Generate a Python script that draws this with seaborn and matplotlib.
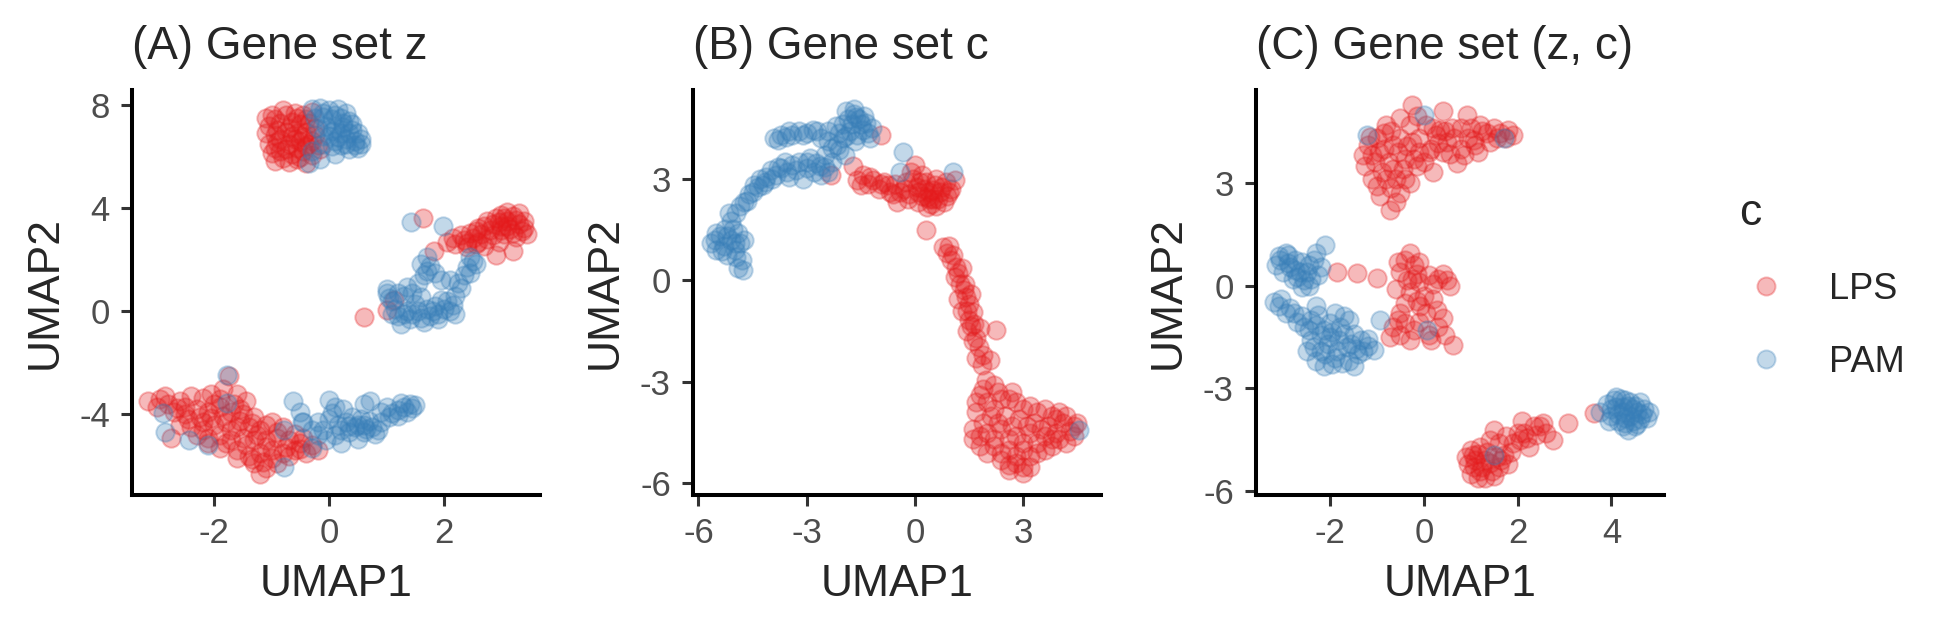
import numpy as np
import pandas as pd
import matplotlib
matplotlib.use("Agg")
import matplotlib.pyplot as plt
import seaborn as sb

# ---- data (UMAP coordinates per panel / group) ----
a_lps = [(-1.0,7.6),(-0.8,7.8),(-0.6,7.7),(-0.45,7.6),(-0.3,7.75),(-1.05,7.2),(-0.85,7.3),(-0.65,7.35),
         (-0.5,7.25),(-0.35,7.3),(-1.1,6.9),(-0.95,6.85),(-0.75,6.95),(-0.55,6.9),(-0.4,6.95),(-0.25,6.85),
         (-1.05,6.5),(-0.9,6.55),(-0.7,6.5),(-0.5,6.6),(-0.35,6.5),(-0.2,6.45),(-1.0,6.15),(-0.85,6.2),
         (-0.65,6.1),(-0.45,6.2),(-0.3,6.05),(-0.95,5.85),(-0.8,5.95),(-0.55,5.9),(-0.4,5.75),(-0.15,6.3),
         (-0.7,7.1),(-0.9,7.05),(-0.6,6.7),
         (-0.95,7.45),(-0.75,7.6),(-0.55,7.5),(-0.4,7.45),(-0.85,6.7),(-0.65,6.8),(-0.45,6.75),(-0.3,6.6),
         (-0.95,6.35),(-0.75,6.3),(-0.55,6.35),(-0.4,6.4),(-0.7,5.8),(-0.5,6.0),(-1.1,7.5),(-0.25,7.1),
         (2.05,2.7),(2.2,2.6),(2.35,2.75),(2.3,2.95),(2.5,2.85),(2.45,3.05),(2.65,3.0),(2.6,3.25),(2.75,2.8),
         (2.8,3.15),(2.85,3.4),(2.9,3.6),(3.0,3.3),(3.05,3.0),(3.1,3.5),(3.2,3.7),(3.15,3.2),(3.3,3.4),
         (3.35,3.1),(3.25,2.9),(3.0,3.75),(2.95,2.7),(2.7,2.55),(2.9,2.2),(3.2,2.35),(2.55,2.6),(3.4,3.25),
         (3.1,3.85),(2.75,3.5),(1.63,3.61),(1.83,2.32),(1.01,0.05),(1.13,0.44),(0.61,-0.23),
         (2.15,2.85),(2.4,2.65),(2.6,2.7),(2.85,2.95),(3.0,3.15),(3.1,3.3),(3.25,3.55),(3.4,3.5),(3.2,3.05),
         (2.95,3.45),(2.7,3.3),(3.05,3.6),(3.3,3.8),(2.55,3.1),(2.4,2.5),(3.45,3.0),
         (-3.15,-3.5),(-2.95,-3.4),(-2.8,-3.6),(-2.6,-3.5),(-2.4,-3.3),(-2.2,-3.35),(-2.05,-3.2),(-1.85,-3.0),
         (-1.75,-2.5),(-1.6,-3.2),(-1.45,-3.5),(-2.7,-3.9),(-2.5,-4.0),(-2.3,-3.8),(-2.1,-3.9),(-1.9,-3.7),
         (-1.7,-3.9),(-1.5,-4.0),(-1.3,-4.1),(-2.6,-4.4),(-2.4,-4.5),(-2.2,-4.3),(-2.0,-4.4),(-1.8,-4.3),
         (-1.6,-4.5),(-1.4,-4.5),(-1.2,-4.6),(-1.0,-4.3),(-0.8,-4.5),(-2.3,-4.8),(-2.1,-4.9),(-1.9,-4.8),
         (-1.7,-5.0),(-1.5,-4.9),(-1.3,-5.0),(-1.1,-5.0),(-0.9,-4.9),(-0.7,-5.0),(-0.5,-5.1),(-0.3,-5.2),
         (-1.9,-5.3),(-1.6,-5.4),(-1.4,-5.6),(-1.2,-5.5),(-1.0,-5.4),(-0.8,-5.5),(-0.6,-5.4),(-0.4,-5.5),
         (-0.2,-5.4),(-1.3,-5.9),(-1.1,-6.1),(-1.2,-6.3),(-0.9,-5.9),(-2.75,-4.9),(-1.65,-3.6),(-2.0,-3.6),
         (-3.0,-3.7),(-2.85,-3.3),(-2.5,-3.7),(-2.25,-4.1),(-2.05,-4.15),(-1.85,-4.05),(-1.55,-4.25),
         (-1.35,-4.35),(-1.1,-4.4),(-0.9,-4.7),(-0.6,-4.75),(-0.45,-4.9),(-1.25,-4.8),(-1.8,-5.1),
         (-1.45,-5.2),(-1.1,-5.25),(-0.75,-5.25),(-0.5,-5.35),(-2.45,-4.2),(-2.2,-4.6),(-1.7,-4.6),
         (-1.9,-3.4),(-2.1,-5.1),(-1.35,-5.75),(-1.0,-5.7),(-1.15,-5.85),(-0.7,-5.6),(-1.55,-3.8),
         (-2.65,-3.75),(-1.6,-5.7)]
a_pam = [(-0.3,7.85),(-0.15,7.9),(0.0,7.8),(0.15,7.85),(0.3,7.7),(-0.25,7.5),(-0.1,7.55),(0.05,7.45),
         (0.2,7.5),(0.35,7.4),(-0.2,7.1),(-0.05,7.2),(0.1,7.1),(0.25,7.15),(0.4,7.05),(0.5,6.9),(0.0,6.8),
         (0.15,6.75),(0.3,6.7),(0.45,6.6),(-0.1,6.5),(0.05,6.4),(0.2,6.45),(0.35,6.3),(0.5,6.35),(-0.3,6.2),
         (-0.15,5.9),(-0.35,5.75),(0.1,6.1),
         (-0.1,7.7),(0.1,7.6),(0.25,7.3),(0.4,7.25),(0.55,6.7),(0.35,6.9),(0.2,6.9),(0.05,7.0),(-0.1,6.8),
         (0.1,6.6),(0.3,6.5),(0.45,6.45),(0.55,6.5),
         (1.42,3.48),(1.98,3.29),(1.0,0.85),(1.0,0.7),(1.1,0.4),(1.15,0.1),(1.2,-0.2),(1.25,-0.5),(1.35,0.0),
         (1.4,-0.3),(1.5,0.3),(1.55,0.0),(1.6,-0.25),(1.7,0.1),(1.75,-0.2),(1.85,0.2),(1.9,-0.1),(2.0,0.1),
         (2.1,0.0),(2.2,-0.1),(2.05,0.4),(1.45,0.7),(1.55,1.1),(1.65,1.4),(1.75,1.75),(1.85,1.5),(1.95,1.2),
         (1.6,1.85),(1.7,2.1),(2.1,1.2),(2.2,0.6),(2.3,0.9),(2.35,1.4),(2.4,1.7),(2.45,2.1),(2.55,1.85),
         (1.3,0.6),(1.35,0.95),
         (1.05,0.5),(1.2,0.7),(1.3,-0.1),(1.45,-0.1),(1.6,0.55),(1.8,0.0),(1.95,0.45),(2.15,0.25),(2.25,1.1),
         (2.45,1.5),(2.5,1.95),(1.7,1.55),(1.1,-0.1),(1.9,-0.3),(1.65,-0.4),
         (-0.62,-3.5),(-0.5,-3.9),(-0.45,-4.3),(0.0,-3.45),(0.1,-3.7),(0.25,-3.8),(0.72,-3.5),(0.9,-3.9),
         (-0.2,-4.3),(0.0,-4.2),(0.15,-4.4),(0.3,-4.3),(0.45,-4.5),(0.6,-4.4),(0.75,-4.5),(0.9,-4.3),
         (1.05,-4.1),(1.2,-3.85),(1.3,-3.7),(1.4,-3.6),(1.5,-3.65),(1.35,-3.9),(1.2,-4.05),(-0.1,-4.6),
         (0.1,-4.8),(0.35,-4.7),(0.6,-4.7),(0.85,-4.6),(-0.05,-5.0),(0.2,-5.1),(0.5,-4.95),(-0.3,-5.3),
         (-0.2,-4.8),(0.4,-4.1),(0.55,-4.2),(0.7,-4.25),(0.8,-4.75),(0.65,-4.55),(0.5,-4.4),(0.35,-4.45),
         (0.2,-4.6),(1.0,-3.7),(1.25,-3.55),(1.45,-3.75),(1.1,-3.95),(-0.3,-4.6),(0.05,-3.95),(0.6,-3.6),
         (-2.89,-3.96),(-2.86,-4.67),(-2.43,-4.99),(-2.1,-5.19),(-1.78,-3.57),(-1.78,-2.47),
         (-0.79,-6.03),(-0.79,-4.6),(-0.47,-4.28)]

b_lps = [(-0.93,4.29),(-2.32,3.11),(-1.72,3.36),
         (-1.6,2.95),(-1.45,3.1),(-1.3,2.85),(-1.15,2.95),(-1.0,2.7),(-0.85,2.9),(-0.7,2.6),(-0.55,2.85),
         (-0.4,2.6),(-0.25,2.9),(-0.1,3.2),(0.0,3.4),(0.05,2.75),(0.2,2.5),(0.3,2.9),(0.4,2.6),(0.5,2.4),
         (0.55,2.8),(0.7,2.6),(0.8,2.3),(0.85,2.9),(1.0,2.7),(1.1,2.95),(-0.2,2.4),(0.1,2.3),(0.35,2.15),
         (0.45,2.25),(-0.5,2.3),(0.6,3.0),(0.2,3.1),(0.31,1.49),
         (-1.5,2.8),(-1.25,3.05),(-0.95,2.85),(-0.75,2.8),(-0.6,2.55),(-0.3,2.7),(-0.15,2.55),(0.1,2.6),
         (0.15,2.9),(0.25,2.7),(0.35,2.45),(0.5,2.65),(0.65,2.4),(0.75,2.75),(0.9,2.5),(0.95,2.6),
         (-0.05,3.0),(0.4,2.4),(0.6,2.2),
         (0.78,0.99),(0.9,0.8),(1.0,0.6),(1.14,0.4),(1.1,0.1),(1.25,-0.1),(1.35,-0.3),(1.2,-0.55),
         (1.42,-0.48),(1.5,-0.7),(1.3,-0.9),(1.51,-1.17),(1.6,-0.95),(1.65,-1.3),(1.45,-1.5),(1.7,-1.7),
         (1.79,-1.96),(2.25,-1.47),(2.07,-2.35),(1.85,-2.5),
         (0.95,1.0),(1.05,0.75),(1.2,0.2),(1.3,0.35),(1.4,-0.1),(1.55,-0.4),(1.45,-0.9),(1.55,-1.35),
         (1.8,-1.4),(1.6,-1.8),(1.9,-2.2),(1.7,-2.3),
         (1.98,-2.94),(2.2,-3.1),(1.8,-3.4),(2.0,-3.6),(2.4,-3.5),(2.8,-3.6),(3.2,-3.7),(3.6,-3.8),
         (4.0,-3.9),(1.7,-3.9),(2.1,-4.0),(2.5,-4.0),(2.9,-4.1),(3.3,-4.2),(3.7,-4.3),(4.1,-4.2),(4.4,-4.3),
         (1.6,-4.4),(2.0,-4.5),(2.4,-4.4),(2.8,-4.6),(3.2,-4.5),(3.6,-4.6),(4.0,-4.7),(4.4,-4.6),(1.8,-4.9),
         (2.2,-4.9),(2.6,-5.0),(3.0,-5.0),(3.4,-5.1),(3.8,-4.9),(2.4,-5.3),(2.8,-5.4),(3.2,-5.5),(3.0,-5.7),
         (2.6,-5.6),(1.6,-4.7),(4.5,-4.2),(3.9,-4.1),(2.7,-3.3),
         (1.9,-3.2),(2.3,-3.3),(2.6,-3.5),(3.0,-3.8),(3.4,-3.9),(3.8,-4.0),(4.2,-4.0),(1.9,-4.2),(2.3,-4.2),
         (2.7,-4.3),(3.1,-4.3),(3.5,-4.4),(3.9,-4.5),(4.3,-4.45),(1.8,-4.6),(2.2,-4.7),(2.6,-4.7),(3.0,-4.8),
         (3.4,-4.8),(3.8,-4.7),(4.2,-4.8),(2.0,-5.1),(2.4,-5.1),(2.8,-5.2),(3.2,-5.2),(3.6,-5.0),(2.6,-5.45),
         (3.0,-5.5),(2.2,-3.8),(1.7,-3.6)]
b_pam = [(-5.65,1.1),(-5.5,0.9),(-5.4,1.3),(-5.3,1.0),(-5.2,0.75),(-5.1,1.2),(-5.0,0.9),(-4.9,1.4),
         (-4.85,1.1),(-4.8,0.6),(-4.9,0.35),(-4.76,0.3),(-5.5,1.4),(-4.75,1.2),(-5.25,1.5),
         (-5.1,1.75),(-4.95,2.0),(-4.86,2.18),(-4.75,2.3),(-4.6,2.55),(-4.45,2.8),(-4.3,3.0),(-4.12,3.06),
         (-4.0,3.25),(-3.85,3.1),(-3.7,3.3),(-3.55,3.2),(-3.4,3.4),(-3.2,3.5),(-3.0,3.3),(-2.8,3.2),
         (-2.6,3.1),(-2.9,3.6),(-2.64,3.36),(-2.4,3.2),(-3.1,3.0),(-3.6,3.5),(-4.2,2.8),
         (-3.9,4.2),(-3.7,4.3),(-3.56,4.24),(-3.4,4.3),(-3.2,4.4),(-3.0,4.35),(-2.83,4.44),(-2.6,4.2),
         (-2.4,4.4),(-2.2,4.55),(-2.09,3.85),(-2.3,3.9),(-2.0,4.6),(-1.85,4.75),(-1.7,4.9),(-1.63,4.83),
         (-1.5,4.6),(-1.35,4.64),(-1.2,4.5),(-1.8,4.4),(-2.0,4.2),(-1.6,4.3),(-1.4,4.85),(-1.9,5.0),
         (-1.95,3.7),(-2.5,3.7),(-1.25,4.2),
         (-5.55,1.2),(-5.35,0.85),(-5.2,1.3),(-5.0,1.1),(-4.95,0.7),(-5.05,1.5),(-5.15,2.0),(-4.65,2.35),
         (-4.5,2.6),(-4.35,2.75),(-4.15,2.9),(-3.95,3.0),(-3.8,3.35),(-3.5,3.05),(-3.3,3.25),(-3.0,3.5),
         (-2.75,3.45),(-2.5,3.35),(-2.3,3.5),(-2.15,4.0),(-1.9,4.25),(-1.75,4.6),(-1.55,4.75),(-1.45,4.45),
         (-1.65,4.1),(-2.1,4.35),(-2.4,4.1),(-2.7,4.4),(-3.1,4.3),(-3.5,4.4),(-3.8,4.15),(-1.3,4.35),
         (-1.7,5.05),
         (-0.33,3.8),(-0.42,3.21),(1.05,3.21),(4.56,-4.42)]

c_lps = [(-1.2,4.1),(-1.25,3.5),(-1.1,3.8),(-1.0,4.3),(-0.9,3.3),(-0.85,4.0),(-0.75,3.6),(-0.7,4.5),
         (-0.6,3.1),(-0.55,3.9),(-0.5,4.3),(-0.45,3.4),(-0.36,4.06),(-0.3,4.7),(-0.26,5.27),(-0.2,3.7),
         (-0.1,4.3),(0.0,3.6),(0.05,4.7),(0.15,4.0),(0.25,4.4),(0.35,4.54),(0.4,3.9),(0.5,4.2),(0.6,4.6),
         (0.7,3.57),(0.8,4.0),(0.92,4.98),(0.95,4.3),(1.06,4.25),(1.15,3.9),(1.25,4.5),(1.4,4.2),(1.5,4.6),
         (1.63,4.45),(1.75,4.3),(1.91,4.4),(-0.93,2.6),(-0.72,2.21),(-0.5,2.7),(-1.1,3.1),(-0.3,3.0),
         (-0.8,4.7),(-0.15,4.95),(0.2,3.3),(1.2,4.7),(-0.6,2.45),
         (-1.15,4.35),(-1.05,3.6),(-0.95,3.9),(-0.85,4.45),(-0.65,4.1),(-0.65,3.4),(-0.4,3.7),(-0.25,4.2),
         (-0.15,3.5),(0.1,3.9),(0.2,4.6),(0.3,4.15),(0.45,4.5),(0.55,3.85),(0.65,4.3),(0.8,4.6),(0.85,3.8),
         (1.0,4.6),(1.1,4.1),(1.35,4.45),(1.55,4.3),(1.8,4.55),(-1.0,2.9),(-0.8,3.1),(-0.4,3.1),(-0.1,3.9),
         (0.4,5.1),(-0.5,4.9),(-1.3,3.8),(-0.7,2.85),
         (-1.85,0.41),(-1.43,0.36),(-1.0,0.21),
         (-0.29,0.94),(-0.2,0.6),(-0.36,0.17),(-0.5,0.4),(-0.6,-0.1),(-0.1,0.1),(0.1,0.3),(0.3,0.2),
         (0.49,0.17),(0.55,0.0),(0.0,-0.3),(-0.4,-0.5),(-0.08,-0.61),(0.28,-0.71),(0.2,-0.4),(-0.65,-1.2),
         (-0.72,-1.49),(-0.4,-1.1),(-0.2,-1.3),(-0.3,-1.6),(0.3,-1.2),(0.45,-1.45),(0.63,-1.73),(-0.1,0.7),
         (-0.55,0.7),(-0.4,0.75),(-0.15,0.35),(0.2,0.05),(0.4,0.35),(-0.3,-0.2),(-0.15,-0.45),(0.05,-0.8),
         (-0.5,-0.8),(-0.55,-1.0),(-0.1,-1.05),(0.1,-1.45),(0.15,-1.6),(-0.5,-1.45),(0.4,-0.95),(-0.25,0.2),
         (1.06,-5.28),(0.9,-5.0),(1.0,-4.8),(1.2,-5.4),(1.3,-5.1),(1.41,-5.18),(1.49,-5.57),(1.3,-5.6),
         (1.15,-4.9),(1.6,-5.3),(1.7,-4.95),(1.8,-5.2),(1.49,-4.21),(1.6,-4.6),(1.9,-4.6),(2.0,-4.3),
         (2.13,-4.31),(2.25,-4.7),(2.35,-4.1),(2.48,-4.11),(2.6,-4.3),(2.76,-4.5),(3.08,-4.02),(3.62,-3.73),
         (1.0,-5.5),(1.75,-4.4),(2.1,-3.95),
         (0.95,-5.2),(1.1,-5.1),(1.2,-4.7),(1.35,-4.85),(1.45,-5.4),(1.55,-5.0),(1.25,-5.3),(1.65,-5.1),
         (1.05,-4.95),(1.85,-4.85),(2.05,-4.5),(2.2,-4.45),(2.4,-4.35),(2.55,-4.0),(1.4,-4.5),(1.15,-5.6)]
c_pam = [(-1.22,4.4),(0.0,4.98),(1.7,4.3),
         (-3.15,0.6),(-3.06,0.75),(-2.95,0.95),(-2.85,0.55),(-2.8,0.2),(-2.71,0.26),(-2.6,0.7),(-2.5,0.4),
         (-2.45,0.0),(-2.35,0.75),(-2.25,0.3),(-2.2,0.55),(-2.1,1.19),(-2.9,0.9),(-2.6,-0.05),(-3.0,0.4),
         (-3.1,0.85),(-2.9,0.65),(-2.75,0.75),(-2.65,0.4),(-2.45,0.6),(-2.3,0.95),(-2.4,0.2),(-2.75,0.45),
         (-2.55,0.15),
         (-3.2,-0.47),(-3.1,-0.6),(-2.95,-0.8),(-2.78,-0.81),(-2.7,-1.05),(-2.55,-1.2),(-2.4,-1.0),
         (-2.3,-0.6),(-2.14,-1.29),(-2.0,-1.1),(-1.9,-0.8),(-1.78,-1.2),(-1.64,-1.78),(-1.5,-1.4),
         (-1.35,-1.6),(-1.2,-1.75),(-1.07,-1.88),(-0.93,-1.0),(-2.4,-1.6),(-2.2,-1.9),(-2.14,-2.36),
         (-1.9,-2.1),(-1.8,-1.6),(-1.6,-2.2),(-1.4,-2.0),(-2.5,-1.9),(-2.0,-1.5),(-1.7,-0.9),(0.06,-1.29),
         (-2.3,-2.2),(-1.5,-2.35),
         (-3.05,-0.4),(-2.85,-0.65),(-2.6,-0.9),(-2.45,-1.3),(-2.3,-1.15),(-2.2,-1.45),(-2.05,-1.7),
         (-1.95,-1.35),(-1.85,-1.9),(-1.7,-1.4),(-1.55,-1.7),(-1.45,-1.85),(-1.3,-1.9),(-2.1,-2.0),
         (-1.95,-2.3),(-1.75,-2.25),(-2.35,-1.8),(-2.25,-0.85),(-1.6,-1.0),(-1.2,-1.55),
         (1.49,-4.94),(3.76,-3.7),(3.9,-3.45),(4.0,-3.8),(4.1,-3.55),(4.2,-3.3),(4.25,-3.7),(4.3,-4.0),
         (4.35,-3.5),(4.4,-3.8),(4.45,-3.6),(4.5,-4.1),(4.55,-3.7),(4.6,-3.9),(4.7,-3.6),(4.8,-3.7),
         (4.35,-4.2),(4.15,-3.95),(4.6,-3.4),(4.0,-3.6),(4.3,-3.35),
         (3.95,-3.95),(4.05,-3.35),(4.15,-3.75),(4.25,-3.55),(4.4,-3.4),(4.45,-3.95),(4.5,-3.5),
         (4.65,-3.75),(4.55,-4.05),(4.75,-3.85),(4.25,-4.1),(4.1,-3.25),(4.3,-3.85)]

titles = ['(A) Gene set z', '(B) Gene set c', '(C) Gene set (z, c)']
xticks = [[-2, 0, 2], [-6, -3, 0, 3], [-2, 0, 2, 4]]
yticks = [[-4, 0, 4, 8], [-6, -3, 0, 3], [-6, -3, 0, 3]]
xlims = [(-3.43, 3.67), (-6.15, 5.16), (-3.58, 5.12)]
ylims = [(-7.13, 8.59), (-6.34, 5.62), (-6.11, 5.71)]

def make_df(lps, pam):
    d1 = pd.DataFrame(lps, columns=['UMAP1', 'UMAP2'])
    d1['c'] = 'LPS'
    d2 = pd.DataFrame(pam, columns=['UMAP1', 'UMAP2'])
    d2['c'] = 'PAM'
    return pd.concat([d1, d2], ignore_index=True)

dfs = [make_df(a_lps, a_pam), make_df(b_lps, b_pam), make_df(c_lps, c_pam)]

sb.set_style('white')
plt.rcParams['font.family'] = ['Liberation Sans', 'DejaVu Sans']
plt.rcParams['axes.unicode_minus'] = False

pal = {'LPS': '#E41A1C', 'PAM': '#377EB8'}
fig = plt.figure(figsize=(19.5, 6.3), dpi=100)
lefts = [0.0677, 0.3554, 0.6441]

for i, df in enumerate(dfs):
    ax = fig.add_axes([lefts[i], 0.2143, 0.2092, 0.643])
    for grp in ['LPS', 'PAM']:
        sub = df[df.c == grp]
        col = matplotlib.colors.to_rgba(pal[grp], 0.3)
        sb.scatterplot(data=sub, x='UMAP1', y='UMAP2', ax=ax, s=175,
                       facecolor=col, edgecolor=col, linewidth=1.4, legend=False)
    ax.set_xlim(xlims[i])
    ax.set_ylim(ylims[i])
    ax.set_xticks(xticks[i])
    ax.set_yticks(yticks[i])
    sb.despine(ax=ax)
    for sp in ['left', 'bottom']:
        ax.spines[sp].set_linewidth(2.9)
        ax.spines[sp].set_color('black')
    ax.tick_params(axis='both', length=8, width=2.2, color='#333333',
                   labelsize=25, labelcolor='#4D4D4D', pad=8, direction='out',
                   bottom=True, left=True)
    ax.set_xlabel('UMAP1', fontsize=32, labelpad=10)
    ax.set_ylabel('UMAP2', fontsize=32, labelpad=10)
    ax.set_title(titles[i], loc='left', fontsize=33, pad=22)

handles = [matplotlib.lines.Line2D([], [], marker='o', linestyle='',
                                   markersize=13, markeredgewidth=1.4,
                                   markerfacecolor=matplotlib.colors.to_rgba(pal[k], 0.3),
                                   markeredgecolor=matplotlib.colors.to_rgba(pal[k], 0.3))
           for k in ['LPS', 'PAM']]
fig.legend(handles, ['LPS', 'PAM'], title='c', loc='upper left',
           bbox_to_anchor=(0.875, 0.745), frameon=False, fontsize=26,
           title_fontsize=32, alignment='left', labelspacing=1.05,
           handlelength=1.5, handletextpad=1.0)

fig.savefig('out.png', dpi=100)
